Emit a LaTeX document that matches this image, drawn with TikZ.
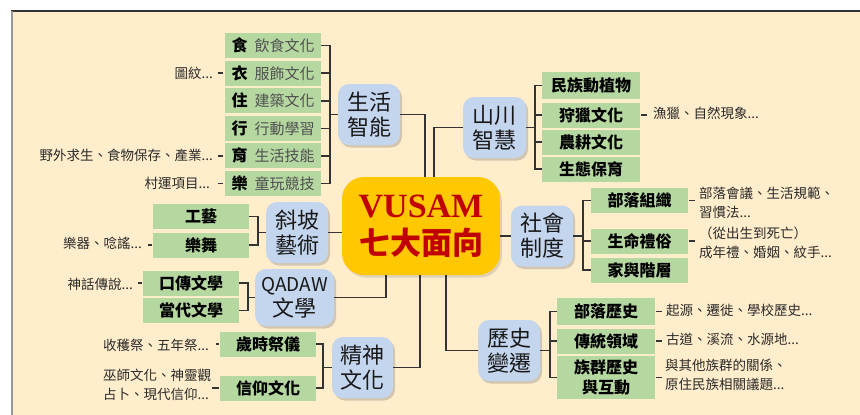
\documentclass[tikz,border=0pt]{standalone}
\usepackage{fontspec}
\setmainfont{Noto Sans CJK TC}
\newfontfamily\vsm{Liberation Serif}
\usetikzlibrary{shadows}
\definecolor{bgc}{HTML}{FFEDCB}
\definecolor{grn}{HTML}{B5D7A0}
\definecolor{blu}{HTML}{C4D5EE}
\definecolor{gold}{HTML}{FFC800}
\definecolor{dred}{HTML}{C00000}
\definecolor{lin}{HTML}{333333}
\definecolor{anntxt}{HTML}{2A2A2A}
\definecolor{subtxt}{HTML}{505050}
\newcommand\lifeitem[2]{{\bfseries\fontsize{16}{20}\selectfont #1}\hspace{7pt}{\mdseries\color{subtxt}\fontsize{15}{20}\selectfont #2}}
\begin{document}
\begin{tikzpicture}[x=1pt,y=-1pt,
 gbox/.style={fill=grn, minimum width=96pt, minimum height=25pt, inner sep=0pt, font=\bfseries\fontsize{16}{20}\selectfont, text=black, align=center},
 bnode/.style={fill=blu, rounded corners=11pt, minimum width=62pt, minimum height=61pt, inner sep=0pt, align=center, font=\fontsize{22}{25}\selectfont, text=black!90, drop shadow={shadow xshift=2pt, shadow yshift=-2.5pt, opacity=0.35}},
 cnode/.style={fill=gold, rounded corners=22pt, minimum width=158pt, minimum height=98pt, inner sep=0pt, align=center, text=dred, font=\bfseries\fontsize{31}{37}\selectfont, drop shadow={shadow xshift=2pt, shadow yshift=-2.5pt, opacity=0.25}},
 ann/.style={inner sep=0pt, font=\fontsize{13.5}{19}\selectfont, text=anntxt, align=left},
 con/.style={draw=lin, line width=1.6pt},
]
\useasboundingbox (0,0) rectangle (860,415);
\fill[white] (0,0) rectangle (860,415);
\fill[bgc] (11,11) rectangle (860,415);
\draw[lin, line width=1.2pt] (11,11) -- (860,11);
\draw[gray!80, line width=2pt] (12,11) -- (12,415);

% center
\node[cnode] (c) at (421,226) {{\vsm\bfseries\fontsize{34}{37}\selectfont VUSAM}\\七大面向};

% group 1
\node[gbox] (g11) at (273,45.5) {\lifeitem{食}{飲食文化}};
\node[gbox] (g12) at (273,73.1) {\lifeitem{衣}{服飾文化}};
\node[gbox] (g13) at (273,100.7) {\lifeitem{住}{建築文化}};
\node[gbox] (g14) at (273,128.3) {\lifeitem{行}{行動學習}};
\node[gbox] (g15) at (273,155.9) {\lifeitem{育}{生活技能}};
\node[gbox] (g16) at (273,183.5) {\lifeitem{樂}{童玩競技}};
\node[bnode] (shz) at (369,114.5) {生活\\智能};
\coordinate (k1) at ([xshift=-8pt]shz.west);
\foreach \n in {g11,g12,g13,g14,g15,g16} \draw[con] (\n.east) -| (k1);
\draw[con] (k1) -- (shz.west);

% group 2
\node[gbox] (g21) at (201,216.5) {工藝};
\node[gbox] (g22) at (201,245) {樂舞};
\node[bnode] (xp) at (297,232.5) {斜坡\\藝術};
\coordinate (k2) at ([xshift=-8pt]xp.west);
\foreach \n in {g21,g22} \draw[con] (\n.east) -| (k2);
\draw[con] (k2) -- (xp.west);

% group 3
\node[gbox] (g31) at (191,283) {口傳文學};
\node[gbox] (g32) at (191,310.5) {當代文學};
\node[bnode, minimum width=79pt, minimum height=57pt] (qd) at (294.5,297.5) {{\fontsize{19}{22}\selectfont QADAW}\\文學};
\coordinate (k3) at ([xshift=-7pt]qd.west);
\foreach \n in {g31,g32} \draw[con] (\n.east) -| (k3);
\draw[con] (k3) -- (qd.west);

% group 4
\node[gbox] (g41) at (268,344) {歲時祭儀};
\node[gbox] (g42) at (268,388) {信仰文化};
\node[bnode, minimum width=61pt] (js) at (362.5,367.5) {精神\\文化};
\coordinate (k4) at ([xshift=-9pt]js.west);
\foreach \n in {g41,g42} \draw[con] (\n.east) -| (k4);
\draw[con] (k4) -- (js.west);

% group 5
\node[bnode, minimum width=63pt] (scz) at (494.5,127.5) {山川\\智慧};
\node[gbox, minimum width=98pt, minimum height=27pt] (g51) at (591,85.5) {民族動植物};
\node[gbox, minimum width=98pt] (g52) at (591,115) {狩獵文化};
\node[gbox, minimum width=98pt] (g53) at (591,142) {農耕文化};
\node[gbox, minimum width=98pt] (g54) at (591,169) {生態保育};
\coordinate (k5) at ([xshift=9pt]scz.east);
\foreach \n in {g51,g52,g53,g54} \draw[con] (\n.west) -| (k5);
\draw[con] (k5) -- (scz.east);

% group 6
\node[bnode] (shd) at (542,236) {社會\\制度};
\node[gbox, minimum width=97pt] (g61) at (639.5,200.5) {部落組織};
\node[gbox, minimum width=97pt] (g62) at (639.5,241) {生命禮俗};
\node[gbox, minimum width=97pt] (g63) at (639.5,270) {家與階層};
\coordinate (k6) at ([xshift=10pt]shd.east);
\foreach \n in {g61,g62,g63} \draw[con] (\n.west) -| (k6);
\draw[con] (k6) -- (shd.east);

% group 7
\node[bnode] (ls) at (509,350.5) {歷史\\變遷};
\node[gbox, minimum width=98pt, minimum height=27pt] (g71) at (606,311.5) {部落歷史};
\node[gbox, minimum width=98pt] (g72) at (606,341) {傳統領域};
\node[gbox, minimum width=98pt, minimum height=43pt] (g73) at (606,377.5) {族群歷史\\與互動};
\coordinate (k7) at ([xshift=10pt]ls.east);
\foreach \n in {g71,g72,g73} \draw[con] (\n.west) -| (k7);
\draw[con] (k7) -- (ls.east);

% center connectors
\draw[con] (shz.east) -| ([xshift=4pt]c.north);
\draw[con] (scz.west) -| ([xshift=13pt]c.north);
\draw[con] (xp.east) -- (xp.east -| c.west);
\draw[con] (shd.west) -- (shd.west -| c.east);
\draw[con] (qd.east) -| ([xshift=-35pt]c.south);
\draw[con] (js.east) -| ([xshift=-1pt]c.south);
\draw[con] (ls.west) -| ([xshift=25pt]c.south);

% left annotations
\node[ann, anchor=east] (a1) at (213,73) {圖紋...};
\draw[con, shorten <=5pt, shorten >=2pt] (a1.east |- g12.west) -- (g12.west);
\node[ann, anchor=east] (a2) at (213,155.5) {野外求生、食物保存、產業...};
\draw[con, shorten <=5pt, shorten >=2pt] (a2.east |- g15.west) -- (g15.west);
\node[ann, anchor=east] (a3) at (210,183) {村運項目...};
\draw[con, shorten <=8pt, shorten >=2pt] (a3.east |- g16.west) -- (g16.west);
\node[ann, anchor=east] (a4) at (142,243) {樂器、唸謠...};
\draw[con, shorten <=6pt, shorten >=1pt] (a4.east |- g22.west) -- (g22.west);
\node[ann, anchor=east] (a5) at (133,284) {神話傳說...};
\draw[con, shorten <=5pt, shorten >=0.5pt] (a5.east |- g31.west) -- (g31.west);
\node[ann, anchor=east] (a6) at (209,345) {收穫祭、五年祭...};
\draw[con, shorten <=7pt, shorten >=1pt] (a6.east |- g41.west) -- (g41.west);
\node[ann, anchor=west] (a7) at (103,385) {巫師文化、神靈觀\\占卜、現代信仰...};
\draw[con, shorten >=1pt] ([xshift=1pt]a7.east |- g42.west) -- (g42.west);

% right annotations
\node[ann, anchor=west] (b1) at (653,113) {漁獵、自然現象...};
\draw[con, shorten <=1pt, shorten >=6pt] (g52.east) -- (b1.west |- g52.east);
\node[ann, anchor=west] (b2) at (699,202.5) {部落會議、生活規範、\\習慣法...};
\draw[con, shorten <=1pt, shorten >=4pt] (g61.east) -- (b2.west |- g61.east);
\node[ann, anchor=west] (b3) at (699,242.5) {（從出生到死亡）\\成年禮、婚姻、紋手...};
\draw[con, shorten <=1pt, shorten >=4pt] (g62.east) -- (b3.west |- g62.east);
\node[ann, anchor=west] (b4) at (666,310) {起源、遷徙、學校歷史...};
\draw[con, shorten <=1pt, shorten >=4pt] (g71.east) -- (b4.west |- g71.east);
\node[ann, anchor=west] (b5) at (666,339) {古道、溪流、水源地...};
\draw[con, shorten <=1pt, shorten >=4pt] (g72.east) -- (b5.west |- g72.east);
\node[ann, anchor=west] (b6) at (665,374.5) {與其他族群的關係、\\原住民族相關議題...};
\draw[con, shorten <=1pt, shorten >=3pt] (g73.east) -- (b6.west |- g73.east);
\end{tikzpicture}
\end{document}
